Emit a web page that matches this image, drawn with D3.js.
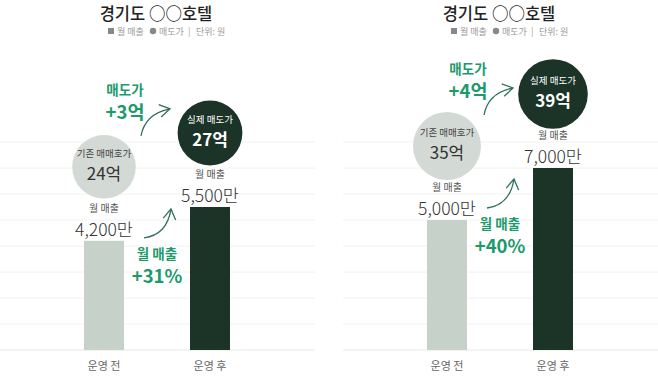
<!DOCTYPE html>
<html>
<head>
<meta charset="utf-8">
<script src="https://cdn.jsdelivr.net/npm/d3@7"></script>
<style>
  body { margin: 0; background: #fff; }
  svg { display: block; font-family: "Noto Sans CJK KR", "Noto Sans", sans-serif; }
</style>
</head>
<body>
<svg id="chart" width="658" height="376"></svg>
<script>
// data
var title = "경기도 ○○호텔";
var categories = ["운영 전", "운영 후"];
var monthlySales = [[4200, 5500], [5000, 7000]];   // 만원
var salePrice = [[24, 27], [35, 39]];              // 억원
var priceCaptions = ["기존 매매호가", "실제 매도가"];
var gridTicks = [0, 1000, 2000, 3000, 4000, 5000, 6000, 7000, 8000];

var svg = d3.select("#chart");
var green = "#1c9a6c", dark = "#1b3427", light = "#c6d1c9", grayCircle = "#d3d9d4";

var y = d3.scaleLinear().domain([0, 8000]).range([350, 142]);
var x = d3.scalePoint().domain(categories).range([51, 263]).padding(0.5);
var r = d3.scaleLinear().domain([0, 40]).range([27, 35]);
var fmt = d3.format(",");

var panelOffsets = [0, 343];

monthlySales.forEach(function(sales, p) {
  var g = svg.append("g").attr("transform", "translate(" + panelOffsets[p] + ",0)");
  var prices = salePrice[p];

  // grid
  g.selectAll(".grid").data(gridTicks).enter().append("line")
    .attr("x1", 0).attr("x2", 315)
    .attr("y1", function(d) { return y(d); }).attr("y2", function(d) { return y(d); })
    .attr("stroke", function(d) { return d === 0 ? "#e8e8e8" : "#f2f2f2"; })
    .attr("stroke-width", 1);

  // title + legend
  g.append("text").attr("x", 156).attr("y", 19.5).attr("text-anchor", "middle")
    .attr("font-size", 16.5).attr("font-weight", 500).attr("fill", "#222").text(title);
  var lg = g.append("g").attr("transform", "translate(108,35)").attr("font-size", 9).attr("fill", "#9a9a9a");
  lg.append("rect").attr("x", 0).attr("y", -7).attr("width", 6).attr("height", 6).attr("fill", "#888");
  lg.append("text").attr("x", 9).text("월 매출");
  lg.append("circle").attr("cx", 45).attr("cy", -4).attr("r", 3.2).attr("fill", "#888");
  lg.append("text").attr("x", 51).text("매도가");
  lg.append("text").attr("x", 80).text("|");
  lg.append("text").attr("x", 88).text("단위: 원");

  // bars
  g.selectAll(".bar").data(sales).enter().append("rect")
    .attr("x", function(d, i) { return x(categories[i]) - 20; })
    .attr("width", 40)
    .attr("y", function(d) { return y(d); })
    .attr("height", function(d) { return y(0) - y(d); })
    .attr("fill", function(d, i) { return i === 0 ? light : dark; });

  // category labels
  g.selectAll(".cat").data(categories).enter().append("text")
    .attr("x", function(d) { return x(d); }).attr("y", 370)
    .attr("text-anchor", "middle").attr("font-size", 11).attr("fill", "#666")
    .text(function(d) { return d; });

  // bar value labels
  sales.forEach(function(v, i) {
    var cx = x(categories[i]);
    g.append("text").attr("x", cx).attr("y", y(v) - 29).attr("text-anchor", "middle")
      .attr("font-size", 10).attr("fill", "#555").text("월 매출");
    g.append("text").attr("x", cx).attr("y", y(v) - 5).attr("text-anchor", "middle")
      .attr("font-size", 17.5).attr("font-weight", 300).attr("fill", "#333").text(fmt(v) + "만");

    // price circles
    var cy = y(v) - 74;
    g.append("circle").attr("cx", cx).attr("cy", cy).attr("r", r(prices[i]))
      .attr("fill", i === 0 ? grayCircle : dark);
    g.append("text").attr("x", cx).attr("y", cy - 10).attr("text-anchor", "middle")
      .attr("font-size", 9.5).attr("fill", i === 0 ? "#444" : "#fff").text(priceCaptions[i]);
    g.append("text").attr("x", cx).attr("y", cy + 13).attr("text-anchor", "middle")
      .attr("font-size", 17).attr("font-weight", i === 0 ? 400 : 700)
      .attr("fill", i === 0 ? "#333" : "#fff").text(prices[i] + "억");
  });

  var mid = (x(categories[0]) + x(categories[1])) / 2;

  // price gain annotation
  var py = y(sales[0]) - 74 - 73;
  g.append("text").attr("x", mid - 32).attr("y", py + 1).attr("text-anchor", "middle")
    .attr("font-size", 13.5).attr("font-weight", 700).attr("fill", green).text("매도가");
  g.append("text").attr("x", mid - 32).attr("y", py + 25).attr("text-anchor", "middle")
    .attr("font-size", 18.5).attr("font-weight", 700).attr("fill", green)
    .text("+" + (prices[1] - prices[0]) + "억");
  drawArrow(g, [mid - 16, py + 42], [mid - 12, py + 20], [mid + 13, py + 15]);

  // sales gain annotation
  var sy = (y(sales[0]) + y(sales[1])) / 2 + 34;
  g.append("text").attr("x", mid).attr("y", sy + 1).attr("text-anchor", "middle")
    .attr("font-size", 13.5).attr("font-weight", 700).attr("fill", green).text("월 매출");
  g.append("text").attr("x", mid).attr("y", sy + 25).attr("text-anchor", "middle")
    .attr("font-size", 18.5).attr("font-weight", 700).attr("fill", green)
    .text("+" + Math.round((sales[1] / sales[0] - 1) * 100) + "%");
  drawArrow(g, [mid - 13, sy - 20], [mid + 10, sy - 23], [mid + 14, sy - 49]);
});

function drawArrow(g, p0, c, p1) {
  g.append("path")
    .attr("d", "M" + p0 + "Q" + c + " " + p1)
    .attr("fill", "none").attr("stroke", "#2f6f5c").attr("stroke-width", 1.3);
  var ang = Math.atan2(p1[1] - c[1], p1[0] - c[0]);
  var a1 = ang + Math.PI - 0.55, a2 = ang + Math.PI + 0.55, len = 12;
  g.append("path")
    .attr("d", "M" + [p1[0] + len * Math.cos(a1), p1[1] + len * Math.sin(a1)] +
      "L" + p1 + "L" + [p1[0] + len * Math.cos(a2), p1[1] + len * Math.sin(a2)])
    .attr("fill", "none").attr("stroke", "#2f6f5c").attr("stroke-width", 1.3);
}
</script>
</body>
</html>
